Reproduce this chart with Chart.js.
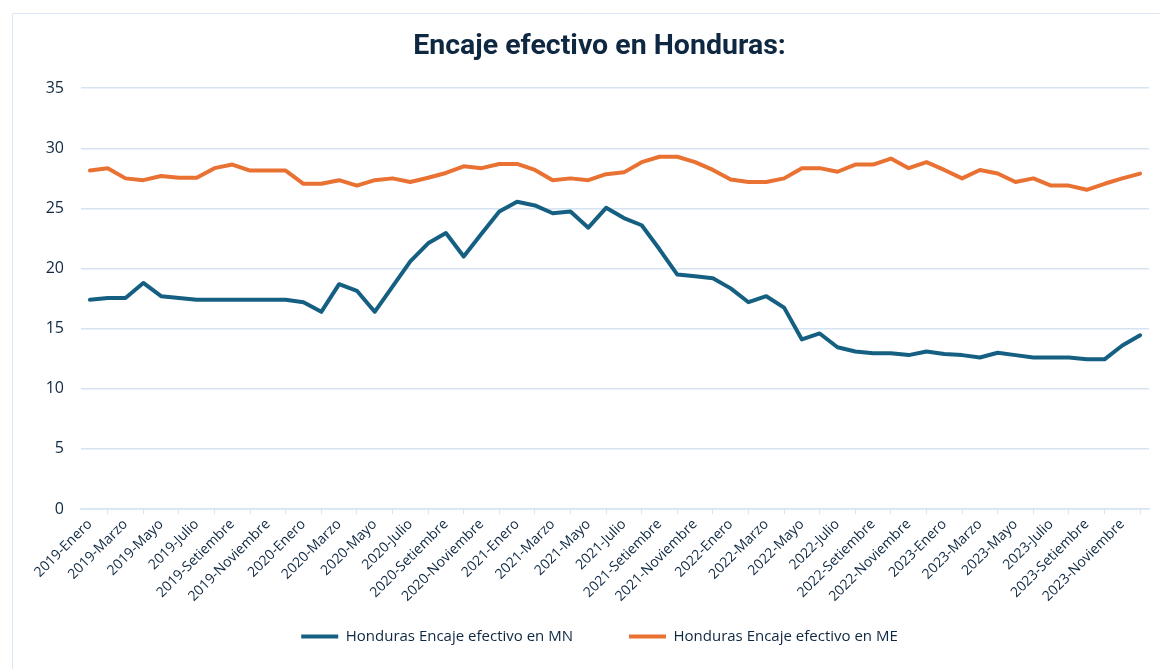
<!DOCTYPE html>
<html>
<head>
<meta charset="utf-8">
<script src="https://cdn.jsdelivr.net/npm/chart.js@4"></script>
<style>
  html, body { margin: 0; padding: 0; background: #ffffff; }
  #wrap { width: 1160px; height: 669px; }
</style>
</head>
<body>
<div id="wrap"><canvas id="c" width="1160" height="669"></canvas></div>
<script>
const years = ['2019', '2020', '2021', '2022', '2023'];
const months = ['Enero', 'Febrero', 'Marzo', 'Abril', 'Mayo', 'Junio', 'Julio', 'Agosto', 'Setiembre', 'Octubre', 'Noviembre', 'Diciembre'];
const categories = [];
years.forEach(y => months.forEach(m => categories.push(y + '-' + m)));

const encajeMN = [
  17.4, 17.55, 17.55, 18.8, 17.7, 17.55, 17.4, 17.4, 17.4, 17.4, 17.4, 17.4,
  17.2, 16.4, 18.7, 18.15, 16.4, 18.5, 20.6, 22.1, 22.95, 21.0, 22.9, 24.75,
  25.55, 25.25, 24.6, 24.75, 23.4, 25.05, 24.2, 23.6, 21.6, 19.5, 19.35, 19.2,
  18.35, 17.2, 17.7, 16.75, 14.1, 14.6, 13.45, 13.1, 12.95, 12.95, 12.8, 13.1,
  12.9, 12.8, 12.6, 13.0, 12.8, 12.6, 12.6, 12.6, 12.45, 12.45, 13.6, 14.45
];
const encajeME = [
  28.15, 28.35, 27.5, 27.35, 27.7, 27.55, 27.55, 28.35, 28.65, 28.15, 28.15, 28.15,
  27.05, 27.05, 27.35, 26.9, 27.35, 27.5, 27.2, 27.55, 27.95, 28.5, 28.35, 28.7,
  28.7, 28.2, 27.35, 27.5, 27.35, 27.85, 28.0, 28.85, 29.3, 29.3, 28.85, 28.2,
  27.4, 27.2, 27.2, 27.5, 28.35, 28.35, 28.05, 28.65, 28.65, 29.15, 28.35, 28.85,
  28.2, 27.5, 28.2, 27.9, 27.2, 27.5, 26.9, 26.9, 26.55, 27.05, 27.5, 27.9
];
const seriesNames = ['Honduras Encaje efectivo en MN', 'Honduras Encaje efectivo en ME'];
const titleText = 'Encaje efectivo en Honduras:';

const TEXT = '#0E2841';
const GRID = '#d5e3f2';
const BLUE = '#156082';
const ORANGE = '#E97132';

const framePlugin = {
  id: 'frame',
  afterLayout(chart) {
    // widen the label clip boxes so the rotated / left tick labels are not cut
    chart.scales.x.bottom = chart.height;
    chart.scales.y.left = 0;
  },
  beforeDraw(chart) {
    const ctx = chart.ctx;
    ctx.save();
    ctx.fillStyle = '#ffffff';
    ctx.fillRect(0, 0, chart.width, chart.height);
    ctx.strokeStyle = '#d9e6f4';
    ctx.lineWidth = 1;
    ctx.beginPath();
    ctx.moveTo(12.5, chart.height);
    ctx.lineTo(12.5, 13.5);
    ctx.lineTo(chart.width, 13.5);
    ctx.stroke();
    ctx.restore();
  }
};

new Chart(document.getElementById('c'), {
  type: 'line',
  data: {
    labels: categories,
    datasets: [
      { label: seriesNames[0], data: encajeMN, borderColor: BLUE, backgroundColor: BLUE,
        borderWidth: 4, pointRadius: 0, tension: 0, borderCapStyle: 'round', borderJoinStyle: 'round' },
      { label: seriesNames[1], data: encajeME, borderColor: ORANGE, backgroundColor: ORANGE,
        borderWidth: 4, pointRadius: 0, tension: 0, borderCapStyle: 'round', borderJoinStyle: 'round' }
    ]
  },
  options: {
    responsive: false,
    animation: false,
    layout: { padding: { left: 50, right: 11, top: 0, bottom: 15 } },
    plugins: {
      title: {
        display: true,
        text: titleText,
        color: TEXT,
        font: { family: 'Roboto', size: 28.5, weight: 'bold', lineHeight: 1.2 },
        padding: { top: 30, bottom: 24 }
      },
      legend: {
        position: 'bottom',
        labels: {
          color: TEXT,
          font: { family: 'Open Sans', size: 15 },
          boxWidth: 37,
          boxHeight: 4,
          padding: 56,
          generateLabels(chart) {
            return Chart.defaults.plugins.legend.labels.generateLabels(chart).map(l => {
              const ds = chart.data.datasets[l.datasetIndex];
              l.fillStyle = ds.borderColor;
              l.strokeStyle = ds.borderColor;
              l.lineWidth = 0;
              return l;
            });
          }
        }
      },
      tooltip: { enabled: false }
    },
    scales: {
      x: {
        offset: true,
        grid: { display: true, drawOnChartArea: false, drawTicks: true, tickLength: 5, color: GRID, offset: true },
        border: { display: true, color: GRID, width: 1.5 },
        ticks: {
          autoSkip: false,
          minRotation: 45,
          maxRotation: 45,
          padding: 2,
          color: TEXT,
          font: { family: 'Open Sans', size: 14 },
          callback: function (val, idx) { return idx % 2 === 0 ? this.getLabelForValue(val) : null; }
        },
        afterFit(scale) { scale.height = 64; }
      },
      y: {
        min: 0,
        max: 35,
        ticks: { stepSize: 5, padding: 17, color: TEXT, font: { family: 'Open Sans', size: 16 } },
        grid: { color: GRID, lineWidth: 1.5, drawTicks: false },
        border: { display: false },
        afterFit(scale) { scale.width = 31; }
      }
    }
  },
  plugins: [framePlugin]
});
</script>
</body>
</html>
